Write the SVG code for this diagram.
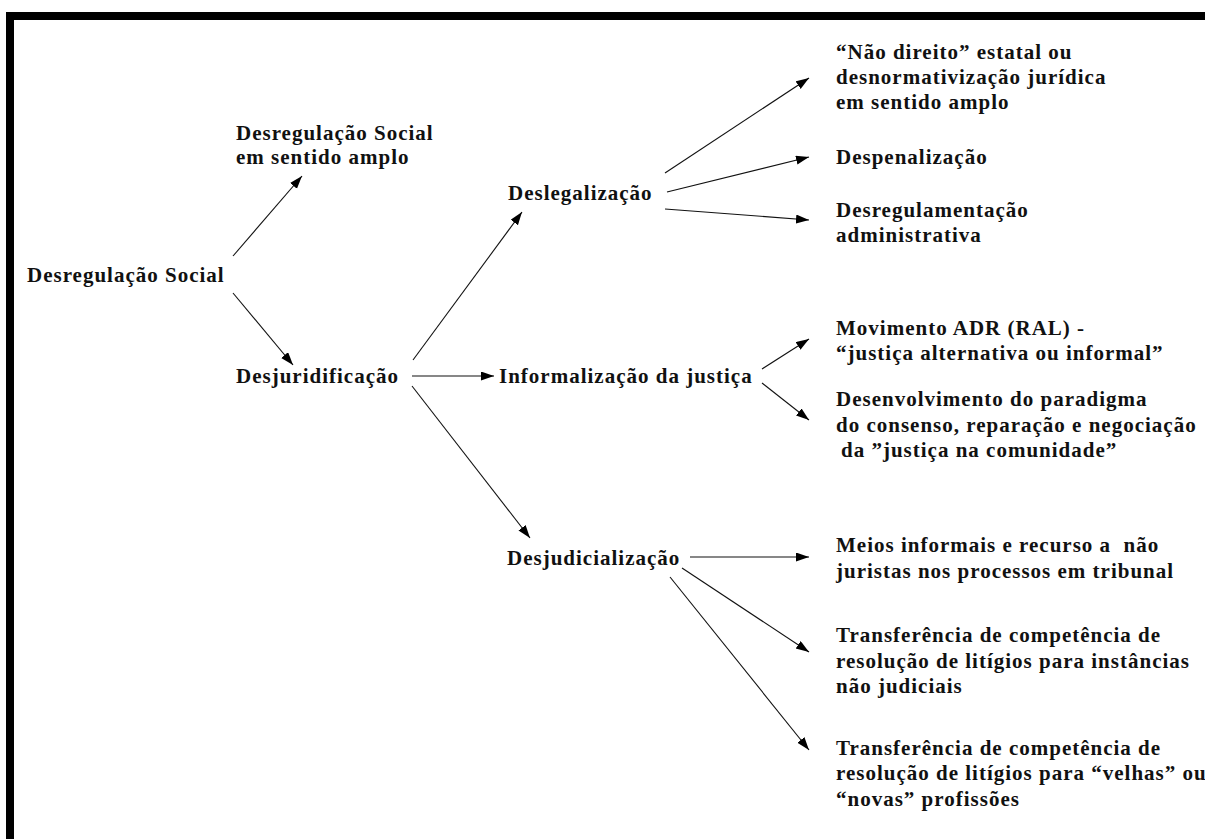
<svg xmlns="http://www.w3.org/2000/svg" width="1205" height="839" viewBox="0 0 1205 839">
<defs>
<style>
text{font-family:"Liberation Serif","Times New Roman",serif;font-weight:bold;font-size:21px;letter-spacing:1px;fill:#111}
.c line{stroke:#111;stroke-width:1.1;marker-end:url(#ah)}
</style>
<marker id="ah" markerUnits="userSpaceOnUse" markerWidth="14" markerHeight="10" refX="13" refY="4.5" orient="auto" viewBox="0 0 14 10">
<path d="M0,0 L13,4.5 L0,9 z" fill="#000"/>
</marker>
</defs>
<rect width="1205" height="839" fill="#fff"/>
<g id="border" fill="#000">
<rect x="6" y="12" width="1199" height="8"/>
<rect x="6" y="12" width="8" height="827"/>
</g>
<g class="c" id="connectors">
<line x1="233" y1="256" x2="302" y2="176"/>
<line x1="233" y1="293" x2="293" y2="365"/>
<line x1="413" y1="360" x2="522" y2="212"/>
<line x1="412" y1="376" x2="494" y2="376"/>
<line x1="412" y1="386" x2="530" y2="538"/>
<line x1="665" y1="173" x2="809" y2="78"/>
<line x1="667" y1="192" x2="809" y2="157"/>
<line x1="665" y1="209" x2="809" y2="220"/>
<line x1="762" y1="369" x2="809" y2="339"/>
<line x1="762" y1="383" x2="809" y2="420"/>
<line x1="690" y1="557" x2="809" y2="557"/>
<line x1="682" y1="568" x2="809" y2="652"/>
<line x1="670" y1="577" x2="809" y2="750"/>
</g>
<g id="n-desregulacao-social"><text x="27" y="282">Desregulação Social</text></g>
<g id="n-desregulacao-amplo"><text x="236" y="140">Desregulação Social</text><text x="236" y="164">em sentido amplo</text></g>
<g id="n-desjuridificacao"><text x="236" y="383">Desjuridificação</text></g>
<g id="n-deslegalizacao"><text x="508" y="200">Deslegalização</text></g>
<g id="n-informalizacao"><text x="499" y="383">Informalização da justiça</text></g>
<g id="n-desjudicializacao"><text x="507" y="565">Desjudicialização</text></g>
<g id="n-nao-direito"><text x="836" y="59">“Não direito” estatal ou</text><text x="836" y="84">desnormativização jurídica</text><text x="836" y="109">em sentido amplo</text></g>
<g id="n-despenalizacao"><text x="836" y="164">Despenalização</text></g>
<g id="n-desregulamentacao"><text x="836" y="217">Desregulamentação</text><text x="836" y="242">administrativa</text></g>
<g id="n-movimento"><text x="836" y="335">Movimento ADR (RAL) -</text><text x="836" y="360">“justiça alternativa ou informal”</text></g>
<g id="n-desenvolvimento"><text x="836" y="406">Desenvolvimento do paradigma</text><text x="836" y="432">do consenso, reparação e negociação</text><text x="841" y="457">da ”justiça na comunidade”</text></g>
<g id="n-meios"><text x="836" y="552" xml:space="preserve">Meios informais e recurso a  não</text><text x="836" y="578">juristas nos processos em tribunal</text></g>
<g id="n-transf1"><text x="836" y="642">Transferência de competência de</text><text x="836" y="668">resolução de litígios para instâncias</text><text x="836" y="693">não judiciais</text></g>
<g id="n-transf2"><text x="836" y="755">Transferência de competência de</text><text x="836" y="780">resolução de litígios para “velhas” ou</text><text x="836" y="806">“novas” profissões</text></g>
</svg>
